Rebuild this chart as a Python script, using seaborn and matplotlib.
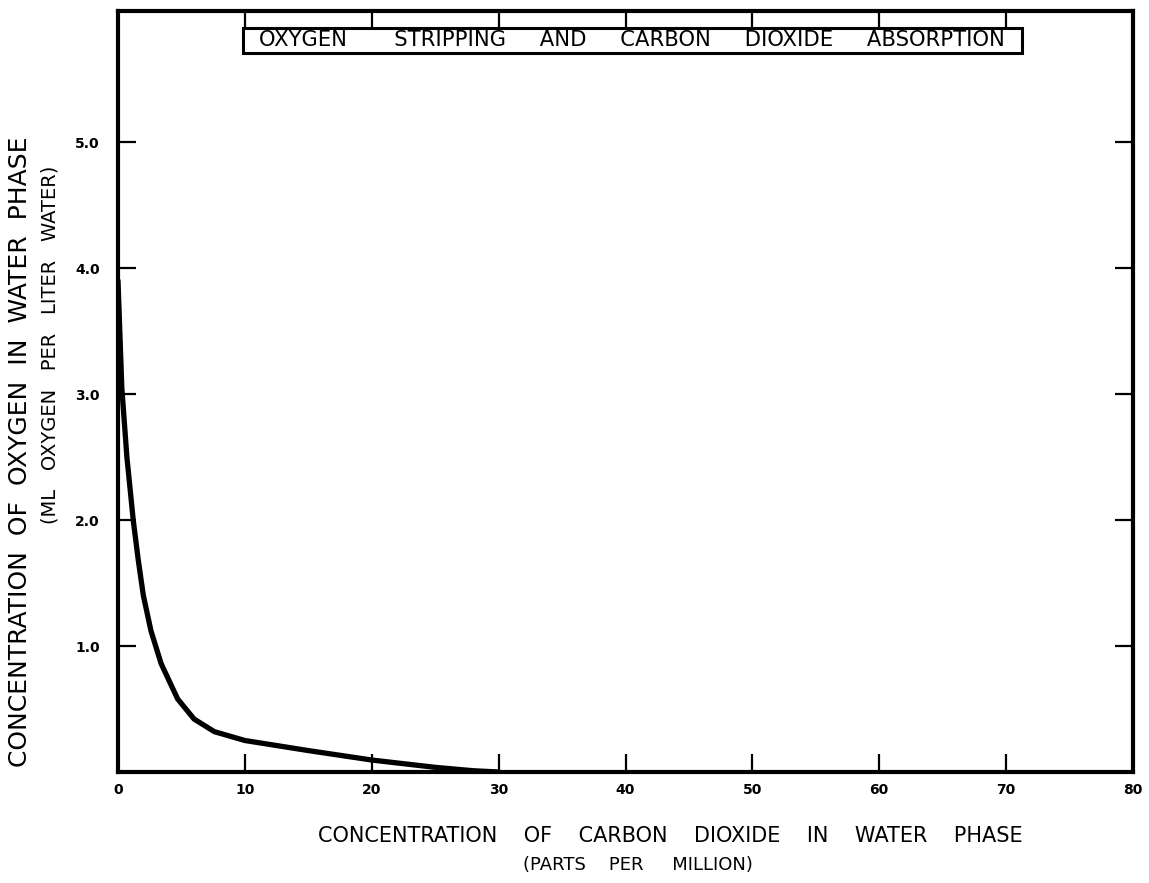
import matplotlib
matplotlib.use("Agg")
import matplotlib.pyplot as plt
from matplotlib.patches import Rectangle
import seaborn as sns
import pandas as pd

# Data
co2_ppm = [0, 0.3, 0.7, 1.2, 1.6, 2.0, 2.6, 3.4, 4.7, 6.0, 7.6, 8.8, 10, 15, 20, 25, 28, 30]
oxygen_ml = [3.9, 3.05, 2.5, 2.0, 1.68, 1.4, 1.12, 0.86, 0.58, 0.42, 0.32, 0.285, 0.25, 0.17, 0.095, 0.037, 0.01, 0.0]
x_ticks = [0, 10, 20, 30, 40, 50, 60, 70, 80]
y_ticks = [1.0, 2.0, 3.0, 4.0, 5.0]
y_tick_labels = ["1.0", "2.0", "3.0", "4.0", "5.0"]

title_text = "OXYGEN       STRIPPING     AND     CARBON     DIOXIDE     ABSORPTION"
xlabel1 = "CONCENTRATION    OF    CARBON    DIOXIDE    IN    WATER    PHASE"
xlabel2 = "(PARTS    PER     MILLION)"
ylabel1 = "CONCENTRATION  OF  OXYGEN  IN  WATER  PHASE"
ylabel2 = "(ML   OXYGEN   PER   LITER   WATER)"

sns.set_style("ticks")
plt.rcParams['font.family'] = ['DejaVu Sans']
plt.rcParams['text.color'] = 'black'
plt.rcParams['axes.labelcolor'] = 'black'
plt.rcParams['xtick.color'] = 'black'
plt.rcParams['ytick.color'] = 'black'

df = pd.DataFrame({"co2": co2_ppm, "o2": oxygen_ml})

W, H = 1149, 883
fig = plt.figure(figsize=(W / 100, H / 100), dpi=100)
ax_l, ax_r, ax_t, ax_b = 118, 1133, 11, 772
ax = fig.add_axes([ax_l / W, 1 - ax_b / H, (ax_r - ax_l) / W, (ax_b - ax_t) / H])

sns.lineplot(data=df, x="co2", y="o2", ax=ax, color="black", linewidth=3.8,
             estimator=None, sort=False)

ax.set_xlim(0, 80)
ax.set_ylim(0, 6.04)
ax.set_xticks(x_ticks)
ax.set_xticklabels([str(t) for t in x_ticks], fontsize=10, fontweight="bold")
ax.set_yticks(y_ticks)
ax.set_yticklabels(y_tick_labels, fontsize=10, fontweight="bold")
ax.tick_params(axis="both", direction="in", length=13, width=1.6, colors="black",
               top=True, right=True, labeltop=False, labelright=False)
ax.tick_params(axis="x", pad=8)
ax.tick_params(axis="y", pad=13)
for side, spine in ax.spines.items():
    spine.set_visible(True)
    spine.set_color("black")
    spine.set_linewidth(3.0)
ax.set_xlabel("")
ax.set_ylabel("")

# Title in a box (pixel positions converted to axes fraction)
def ax_frac(px, py):
    return (px - ax_l) / (ax_r - ax_l), (ax_b - py) / (ax_b - ax_t)

bx0, by0 = ax_frac(243, 53)
bx1, by1 = ax_frac(1022, 28)
ax.add_patch(Rectangle((bx0, by0), bx1 - bx0, by1 - by0, transform=ax.transAxes,
                       facecolor="white", edgecolor="black", linewidth=2.2, zorder=5))
tx, ty = ax_frac(632, 40.5)
ax.text(tx, ty, title_text, transform=ax.transAxes, ha="center", va="center",
        fontsize=15.2, zorder=6)

# Axis labels as figure texts
fig.text(670 / W, 1 - 836 / H, xlabel1, ha="center", va="center", fontsize=15)
fig.text(638 / W, 1 - 865 / H, xlabel2, ha="center", va="center", fontsize=13)
fig.text(20 / W, 1 - 452 / H, ylabel1, ha="center", va="center", fontsize=18, rotation=90)
fig.text(50 / W, 1 - 345 / H, ylabel2, ha="center", va="center", fontsize=14, rotation=90)

fig.savefig("out.png", dpi=100)
